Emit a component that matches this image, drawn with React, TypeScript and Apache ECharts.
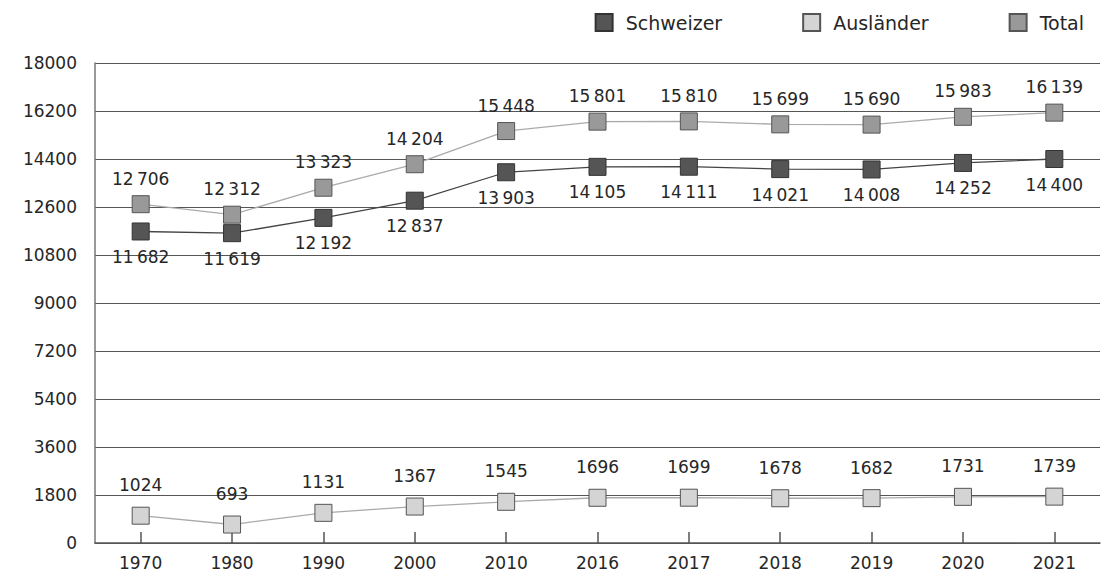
import React, { useEffect, useRef } from "react";
import * as echarts from "echarts";

const years = ["1970", "1980", "1990", "2000", "2010", "2016", "2017", "2018", "2019", "2020", "2021"];
const schweizer = [11682, 11619, 12192, 12837, 13903, 14105, 14111, 14021, 14008, 14252, 14400];
const auslaender = [1024, 693, 1131, 1367, 1545, 1696, 1699, 1678, 1682, 1731, 1739];
const total = [12706, 12312, 13323, 14204, 15448, 15801, 15810, 15699, 15690, 15983, 16139];

const FONT = "'DejaVu Sans', Verdana, sans-serif";

const fmt = (v: number) => {
  if (v < 10000) return String(v);
  const s = String(v);
  return s.slice(0, s.length - 3) + "\u2009" + s.slice(s.length - 3);
};

export default function App() {
  const ref = useRef<HTMLDivElement>(null);
  useEffect(() => {
    document.body.style.margin = "0";
    const chart = echarts.init(ref.current!, null, { renderer: "svg" });
    const labelStyle = (pos: string, dist: number) => ({
      show: true,
      position: pos,
      distance: dist,
      fontFamily: FONT,
      fontSize: 17,
      color: "#262626",
      formatter: (p: any) => fmt(p.value),
    });
    chart.setOption({
      animation: false,
      backgroundColor: "#fff",
      textStyle: { fontFamily: FONT },
      legend: {
        data: ["Schweizer", "Ausländer", "Total"],
        right: 24,
        top: 8,
        icon: "rect",
        itemWidth: 17,
        itemHeight: 17,
        itemGap: 80,
        textStyle: { fontFamily: FONT, fontSize: 19, color: "#262626", padding: [0, 0, 0, 8] },
      },
      grid: { left: 95, right: 13, top: 63, bottom: 30, containLabel: false },
      xAxis: {
        type: "category",
        data: years,
        boundaryGap: true,
        axisLine: { lineStyle: { color: "#555", width: 1.5 } },
        axisTick: { show: true, inside: true, length: 11, alignWithLabel: true, lineStyle: { color: "#555", width: 1.5 } },
        axisLabel: { fontFamily: FONT, fontSize: 17, color: "#262626", margin: 11 },
      },
      yAxis: {
        type: "value",
        min: 0,
        max: 18000,
        interval: 1800,
        axisLine: { show: true, lineStyle: { color: "#777", width: 1.5 } },
        axisTick: { show: false },
        axisLabel: { fontFamily: FONT, fontSize: 17, color: "#262626", margin: 18, formatter: (v: number) => String(v) },
        splitLine: { lineStyle: { color: "#555", width: 1 } },
      },
      series: [
        {
          name: "Total",
          type: "line",
          data: total,
          symbol: "rect",
          symbolSize: 17,
          itemStyle: { color: "#999999", borderColor: "#555", borderWidth: 1 },
          lineStyle: { color: "#aaaaaa", width: 1.3 },
          label: labelStyle("top", 8),
        },
        {
          name: "Ausländer",
          type: "line",
          data: auslaender,
          symbol: "rect",
          symbolSize: 17,
          itemStyle: { color: "#d4d4d4", borderColor: "#555", borderWidth: 1 },
          lineStyle: { color: "#aaaaaa", width: 1.3 },
          label: labelStyle("top", 13),
        },
        {
          name: "Schweizer",
          type: "line",
          data: schweizer,
          symbol: "rect",
          symbolSize: 17,
          itemStyle: { color: "#555555", borderColor: "#333", borderWidth: 1 },
          lineStyle: { color: "#444444", width: 1.3 },
          label: labelStyle("bottom", 8),
        },
      ],
    });
    return () => chart.dispose();
  }, []);
  return <div ref={ref} style={{ width: 1113, height: 573 }} />;
}
